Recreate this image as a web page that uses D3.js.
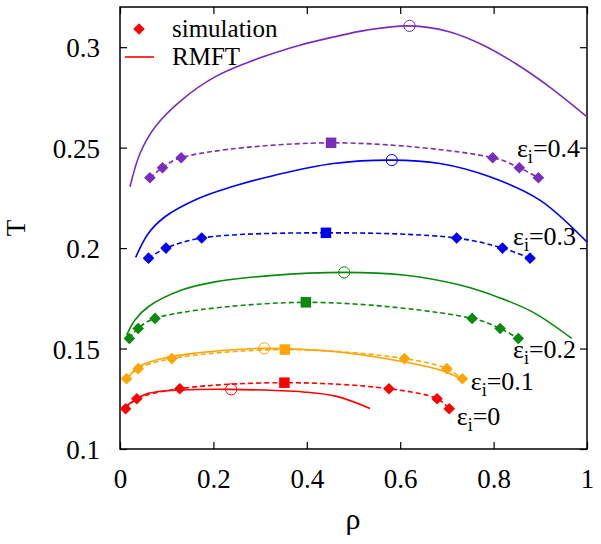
<!DOCTYPE html>
<html>
<head>
<meta charset="utf-8">
<script src="https://cdn.jsdelivr.net/npm/d3@7"></script>
<style>
  html, body { margin: 0; padding: 0; background: #fff; }
  svg { display: block; }
</style>
</head>
<body>
<svg id="chart" width="601" height="544"></svg>
<script>
// ---- data ----
const seriesNames = ["0", "0.1", "0.2", "0.3", "0.4"];

// simulation points [rho, T]
const sim0 = [[0.012,0.120],[0.036,0.125],[0.128,0.130],[0.352,0.133],[0.576,0.130],[0.679,0.125],[0.705,0.120]];
const sim1 = [[0.014,0.135],[0.039,0.140],[0.111,0.145],[0.353,0.1495],[0.609,0.145],[0.700,0.140],[0.733,0.135]];
const sim2 = [[0.020,0.155],[0.039,0.160],[0.075,0.165],[0.398,0.173],[0.754,0.165],[0.814,0.160],[0.853,0.155]];
const sim3 = [[0.061,0.195],[0.0985,0.200],[0.175,0.205],[0.441,0.2076],[0.721,0.205],[0.819,0.200],[0.878,0.195]];
const sim4 = [[0.064,0.235],[0.091,0.240],[0.131,0.245],[0.452,0.2524],[0.798,0.245],[0.855,0.240],[0.896,0.235]];
const simCritIndex = [3, 3, 3, 3, 3];

// RMFT curves [rho, T]
const rmft0 = [[0.0107,0.1210],[0.0321,0.1244],[0.0606,0.1277],[0.132,0.1294],[0.2355,0.1297],[0.332,0.1291],[0.3925,0.1284],[0.464,0.1262],[0.5353,0.1202]];
const rmft1 = [[0.0165,0.1352],[0.0392,0.1409],[0.0964,0.1454],[0.1677,0.1479],[0.2392,0.1494],[0.309,0.1501],[0.464,0.1484],[0.6066,0.1434],[0.690,0.1390],[0.728,0.1352]];
const rmft2 = [[0.0143,0.1567],[0.0321,0.1642],[0.0606,0.1708],[0.132,0.1791],[0.2034,0.1832],[0.3212,0.1863],[0.4797,0.1879],[0.6066,0.1866],[0.728,0.1816],[0.8137,0.1752],[0.885,0.1680],[0.967,0.1551]];
const rmft3 = [[0.0336,0.1954],[0.0606,0.2073],[0.0964,0.2156],[0.1677,0.2247],[0.2392,0.2305],[0.332,0.2363],[0.457,0.2421],[0.582,0.2438],[0.685,0.2421],[0.792,0.2355],[0.899,0.2239],[1.0,0.2030]];
const rmft4 = [[0.0214,0.2305],[0.0428,0.2471],[0.075,0.2603],[0.132,0.2737],[0.2034,0.2852],[0.2747,0.2925],[0.332,0.2972],[0.3854,0.3010],[0.456,0.3050],[0.528,0.3085],[0.620,0.3106],[0.7066,0.3076],[0.778,0.3010],[0.8495,0.2915],[0.921,0.2800],[1.0,0.2653]];
// RMFT critical points (open circles)
const rmftCrit = [[0.238,0.1297],[0.309,0.1501],[0.480,0.1879],[0.582,0.2438],[0.620,0.3106]];

const xTicks = [0, 0.2, 0.4, 0.6, 0.8, 1];
const yTicks = [0.1, 0.15, 0.2, 0.25, 0.3];
const xTickLabels = ["0", "0.2", "0.4", "0.6", "0.8", "1"];
const yTickLabels = ["0.1", "0.15", "0.2", "0.25", "0.3"];

// ---- styles / layout ----
const colors = ["#ff0000", "#ffa500", "#0a8a0a", "#0000ee", "#7a2cbd"];
const sims = [sim0, sim1, sim2, sim3, sim4];
const rmfts = [rmft0, rmft1, rmft2, rmft3, rmft4];
// epsilon label anchors (start x, baseline) in data coordinates
const labelAnchors = [[0.721,0.1119],[0.751,0.1294],[0.8415,0.1453],[0.8415,0.2015],[0.850,0.2453]];

const SERIF = "Liberation Serif";
const L = 120, R = 587, TOP = 7, B = 449;
const svg = d3.select("#chart");
const x = d3.scaleLinear().domain([0, 1]).range([L, R]);
const y = d3.scaleLinear().domain([0.1, 0.32]).range([B, TOP]);

const FS = 27;

// axes (ticks inward on all sides)
const tickLen = 7;
const gx = svg.append("g").attr("transform", `translate(0,${B})`)
  .call(d3.axisBottom(x).tickValues(xTicks).tickSize(-tickLen).tickPadding(20)
        .tickFormat((d,i) => xTickLabels[i]));
const gxt = svg.append("g").attr("transform", `translate(0,${TOP})`)
  .call(d3.axisTop(x).tickValues(xTicks).tickSize(-tickLen).tickFormat(""));
const gy = svg.append("g").attr("transform", `translate(${L},0)`)
  .call(d3.axisLeft(y).tickValues(yTicks).tickSize(-tickLen).tickPadding(20)
        .tickFormat((d,i) => yTickLabels[i]));
const gyr = svg.append("g").attr("transform", `translate(${R},0)`)
  .call(d3.axisRight(y).tickValues(yTicks).tickSize(-tickLen).tickFormat(""));
[gx, gxt, gy, gyr].forEach(g => {
  g.attr("font-family", SERIF).attr("font-size", FS);
  g.select(".domain").remove();
  g.selectAll(".tick line").attr("stroke", "#000").attr("stroke-width", 1.2);
  g.selectAll("text").attr("font-family", SERIF).attr("font-size", FS).attr("fill", "#000");
});
gx.selectAll("text").attr("dy", "0.71em");
gy.selectAll("text").attr("dy", "0.36em");

// frame
svg.append("rect").attr("x", L).attr("y", TOP).attr("width", R - L).attr("height", B - TOP)
  .attr("fill", "none").attr("stroke", "#000").attr("stroke-width", 1.5);

// axis labels
svg.append("text").attr("transform", `translate(25,228) rotate(-90)`)
  .attr("font-family", SERIF).attr("text-anchor", "middle").attr("font-size", FS).text("T");
svg.append("text").attr("x", 353).attr("y", 529)
  .attr("font-family", SERIF).attr("text-anchor", "middle").attr("font-size", 30).text("ρ");

const plot = svg.append("g");
const line = d3.line().x(d => x(d[0])).y(d => y(d[1]));

function diamondPath(cx, cy, r) {
  return `M${cx},${cy - r}L${cx + r},${cy}L${cx},${cy + r}L${cx - r},${cy}Z`;
}

// RMFT solid curves
rmfts.forEach((data, i) => {
  plot.append("path").datum(data)
    .attr("d", line.curve(d3.curveCatmullRom.alpha(0.5)))
    .attr("fill", "none").attr("stroke", colors[i]).attr("stroke-width", 1.6);
});

// simulation dashed curves + markers
sims.forEach((data, i) => {
  plot.append("path").datum(data)
    .attr("d", line.curve(d3.curveCatmullRom.alpha(0.5)))
    .attr("fill", "none").attr("stroke", colors[i]).attr("stroke-width", 1.6)
    .attr("stroke-dasharray", "5,3");
  data.forEach((p, j) => {
    if (j === simCritIndex[i]) {
      const s = 10.5;
      plot.append("rect").attr("x", x(p[0]) - s / 2).attr("y", y(p[1]) - s / 2)
        .attr("width", s).attr("height", s).attr("fill", colors[i]);
    } else {
      plot.append("path").attr("d", diamondPath(x(p[0]), y(p[1]), 5.8)).attr("fill", colors[i]);
    }
  });
});

// RMFT critical points (open circles)
rmftCrit.forEach((p, i) => {
  plot.append("circle").attr("cx", x(p[0])).attr("cy", y(p[1])).attr("r", 5.6)
    .attr("fill", "none").attr("stroke", colors[i]).attr("stroke-width", 1);
});

// epsilon labels
seriesNames.forEach((name, i) => {
  const a = labelAnchors[i];
  const t = svg.append("text").attr("x", x(a[0])).attr("y", y(a[1]))
    .attr("font-family", SERIF).attr("font-size", 26);
  t.append("tspan").text("ε");
  t.append("tspan").attr("dy", 6).attr("font-size", 18).text("i");
  t.append("tspan").attr("dy", -6).text("=" + name);
});

// legend
svg.append("path").attr("d", diamondPath(139, 29, 5.8)).attr("fill", colors[0]);
svg.append("text").attr("x", 172).attr("y", 37).attr("font-family", SERIF).attr("font-size", 25).text("simulation");
svg.append("line").attr("x1", 125).attr("x2", 154).attr("y1", 57).attr("y2", 57)
  .attr("stroke", colors[0]).attr("stroke-width", 1.6);
svg.append("text").attr("x", 172).attr("y", 65).attr("font-family", SERIF).attr("font-size", 25).text("RMFT");
</script>
</body>
</html>
